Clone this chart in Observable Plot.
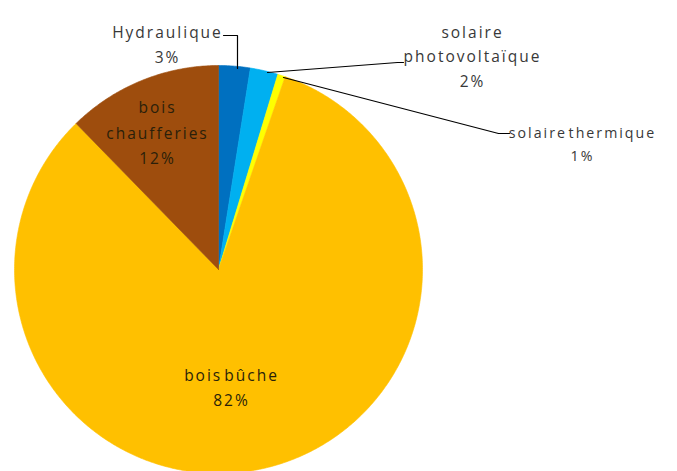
<!DOCTYPE html>
<html><head><meta charset="utf-8">
<script src="https://cdn.jsdelivr.net/npm/d3@7"></script>
<script src="https://cdn.jsdelivr.net/npm/@observablehq/plot@0.6"></script>
<style>html,body{margin:0;padding:0;background:#fff;overflow:hidden}</style>
</head><body><div id="chart"></div>
<script>
// ---- data ----
const categories = ["Hydraulique", "solaire photovoltaïque", "solaire thermique", "bois bûche", "bois chaufferies"];
const values = [2.5, 2.2, 0.6, 82.4, 12.3];
const labelLines = [["Hydraulique"], ["solaire", "photovoltaïque"], ["solaire thermique"], ["bois bûche"], ["bois", "chaufferies"]];
const colors = ["#0070C0", "#00B0F0", "#FFFF00", "#FFC000", "#9E4D0D"];

// ---- layout (pixels) ----
const W = 677, H = 471, CX = 218, CY = 269, R = 204;
const u = ([px, py]) => ({x: (px - CX) / R, y: (CY - py) / R});
const labelCenters = [[167, 42], [472, 54], [582, 142], [231, 385], [157, 130]];
const labelSizes = [15.5, 15.5, 14.2, 15.5, 15.5];
const insideLabel = [false, false, false, true, true];
const leaders = [
  [[223, 35], [237, 35], [237, 68]],
  [[267, 72], [397, 62], [403, 62]],
  [[283, 77], [498, 133], [509, 133]]
];

// ---- slice geometry from values ----
const total = d3.sum(values);
const slices = [];
let acc = 0;
categories.forEach((name, i) => {
  const a0 = acc / total * 2 * Math.PI;
  acc += values[i];
  const a1 = acc / total * 2 * Math.PI;
  const n = Math.max(2, Math.ceil((a1 - a0) / (Math.PI / 360)));
  slices.push({name, x: 0, y: 0});
  for (let k = 0; k <= n; k++) {
    const a = a0 + (a1 - a0) * k / n;
    slices.push({name, x: Math.sin(a), y: Math.cos(a)});
  }
  slices.push({name, x: 0, y: 0});
});

const labels = categories.map((name, i) => ({
  name,
  text: labelLines[i].join("\n") + "\n" + Math.round(values[i]) + "%",
  inside: insideLabel[i],
  size: labelSizes[i],
  ...u(labelCenters[i])
}));
const leaderPts = leaders.flatMap((pts, j) => pts.map(p => ({id: j, ...u(p)})));

const chart = Plot.plot({
  width: W, height: H,
  margin: 0,
  x: {domain: [(0 - CX) / R, (W - CX) / R], axis: null},
  y: {domain: [(CY - H) / R, CY / R], axis: null},
  color: {domain: categories, range: colors},
  style: {fontFamily: "'Open Sans', sans-serif", letterSpacing: "2px", wordSpacing: "-4px", background: "#fff"},
  marks: [
    Plot.line(slices, {x: "x", y: "y", z: "name", fill: "name", stroke: "name", strokeWidth: 0.6, curve: "linear", clip: true}),
    Plot.line(leaderPts, {x: "x", y: "y", z: "id", stroke: "#000", strokeWidth: 1.2}),
    Plot.text(labels.filter(d => !d.inside), {x: "x", y: "y", text: "text", fill: "#383838", fontSize: "size", lineHeight: 1.6, lineAnchor: "middle", textAnchor: "middle"}),
    Plot.text(labels.filter(d => d.inside), {x: "x", y: "y", text: "text", fill: "#2a1f0a", fontSize: "size", lineHeight: 1.65, lineAnchor: "middle", textAnchor: "middle"})
  ]
});
document.getElementById("chart").appendChild(chart);
</script>
</body></html>
